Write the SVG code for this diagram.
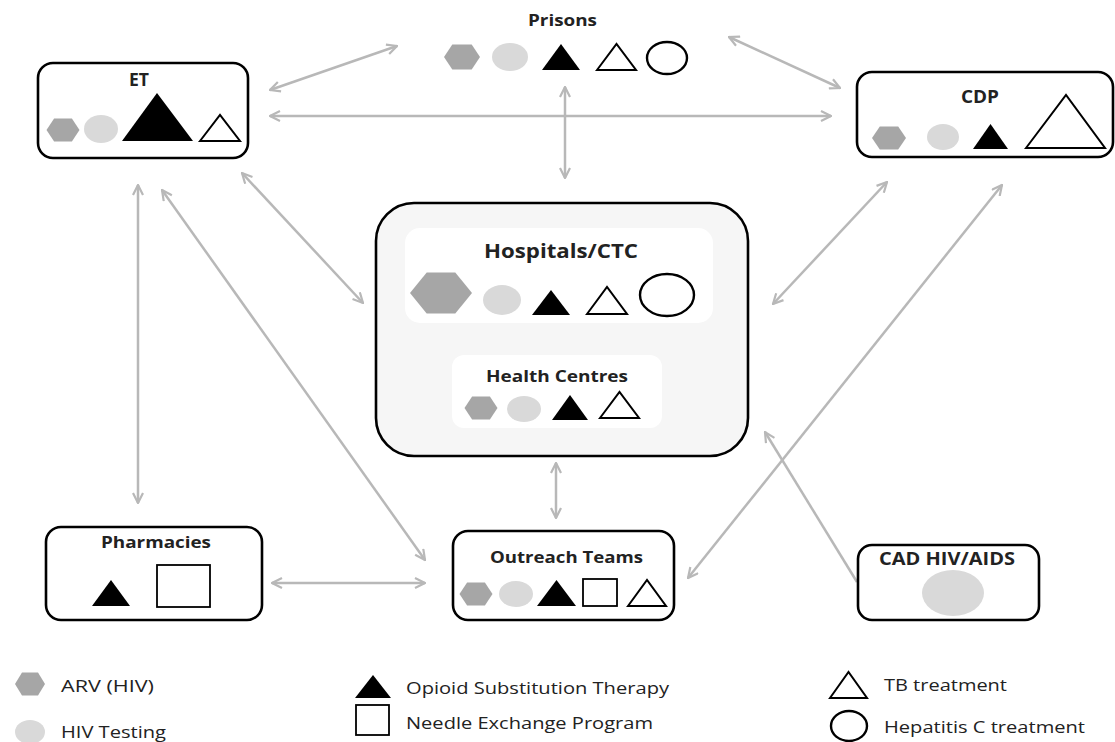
<svg xmlns="http://www.w3.org/2000/svg" width="1115" height="742" viewBox="0 0 1115 742">
<style>
.box{fill:#fff;stroke:#000;stroke-width:2.6}
.big{fill:#f6f6f6;stroke:#000;stroke-width:2.6}
.inner{fill:#fff;stroke:none}
.hex{fill:#a6a6a6}
.dot{fill:#d9d9d9}
.ost{fill:#000}
.tb{fill:#fff;stroke:#000;stroke-width:2}
.hcv{fill:#fff;stroke:#000;stroke-width:2.4}
.nep{fill:#fff;stroke:#000;stroke-width:1.8}
.t{font-family:"Open Sans","Liberation Sans",sans-serif;font-weight:bold;fill:#222}
.l{font-family:"Open Sans","Liberation Sans",sans-serif;font-size:17px;fill:#222}
.c{fill:none;stroke:#b8b8b8;stroke-width:2.5}
</style>
<defs>
<marker id="ah" viewBox="0 0 12 12" refX="11" refY="6" markerWidth="12" markerHeight="12" markerUnits="userSpaceOnUse" orient="auto-start-reverse">
<path d="M1,1 L11,6 L1,11" fill="none" stroke="#b8b8b8" stroke-width="2.2"/>
</marker>
</defs>
<rect width="1115" height="742" fill="#fff"/>

<g id="connectors">
<line class="c" x1="397" y1="46" x2="270" y2="90" marker-start="url(#ah)" marker-end="url(#ah)"/>
<line class="c" x1="270" y1="116" x2="831" y2="116" marker-start="url(#ah)" marker-end="url(#ah)"/>
<line class="c" x1="729" y1="37" x2="840" y2="88" marker-start="url(#ah)" marker-end="url(#ah)"/>
<line class="c" x1="565" y1="87" x2="565" y2="178" marker-start="url(#ah)" marker-end="url(#ah)"/>
<line class="c" x1="242" y1="173" x2="363" y2="303" marker-start="url(#ah)" marker-end="url(#ah)"/>
<line class="c" x1="138" y1="185" x2="138" y2="503" marker-start="url(#ah)" marker-end="url(#ah)"/>
<line class="c" x1="162" y1="190" x2="425" y2="560" marker-start="url(#ah)" marker-end="url(#ah)"/>
<line class="c" x1="887" y1="182" x2="773" y2="304" marker-start="url(#ah)" marker-end="url(#ah)"/>
<line class="c" x1="1002" y1="185" x2="688" y2="578" marker-start="url(#ah)" marker-end="url(#ah)"/>
<line class="c" x1="556" y1="463" x2="556" y2="518" marker-start="url(#ah)" marker-end="url(#ah)"/>
<line class="c" x1="272" y1="583" x2="425" y2="583" marker-start="url(#ah)" marker-end="url(#ah)"/>
<line class="c" x1="857" y1="582" x2="765" y2="432" marker-end="url(#ah)"/>
</g>

<g id="prisons">
<text class="t" x="528" y="26" font-size="16" textLength="69" lengthAdjust="spacingAndGlyphs">Prisons</text>
<polygon class="hex" points="444,57 452.3,44.5 471.7,44.5 480,57 471.7,69.5 452.3,69.5"/>
<ellipse class="dot" cx="510" cy="57" rx="18" ry="14"/>
<polygon class="ost" points="542,70 561,44 580,70"/>
<polygon class="tb" points="597,70 616.5,44 636,70"/>
<ellipse class="hcv" cx="667" cy="58" rx="20" ry="16"/>
</g>

<g id="et">
<rect class="box" x="38" y="63" width="210" height="95" rx="15"/>
<text class="t" x="129" y="86" font-size="17" textLength="20" lengthAdjust="spacingAndGlyphs">ET</text>
<polygon class="hex" points="46.5,130 54.1,118.5 71.9,118.5 79.5,130 71.9,141.5 54.1,141.5"/>
<ellipse class="dot" cx="101" cy="129" rx="17" ry="14"/>
<polygon class="ost" points="122,141 157,93 193,141"/>
<polygon class="tb" points="200,141 220,115 240,141"/>
</g>

<g id="cdp">
<rect class="box" x="857" y="72" width="256" height="85" rx="15"/>
<text class="t" x="961" y="103" font-size="17" textLength="38" lengthAdjust="spacingAndGlyphs">CDP</text>
<polygon class="hex" points="872,138 879.8,126.5 898.2,126.5 906,138 898.2,149.5 879.8,149.5"/>
<ellipse class="dot" cx="943" cy="137" rx="16" ry="13"/>
<polygon class="ost" points="973,149 990.5,124 1008,149"/>
<polygon class="tb" points="1026,148 1066,95 1105,148"/>
</g>

<g id="hospitals">
<rect class="big" x="376" y="203" width="372" height="253" rx="38"/>
<rect class="inner" x="405" y="228" width="308" height="95" rx="15"/>
<text class="t" x="484" y="258" font-size="20" textLength="154" lengthAdjust="spacingAndGlyphs">Hospitals/CTC</text>
<polygon class="hex" points="410,293 426.7,272.5 455.3,272.5 472,293 455.3,313.5 426.7,313.5"/>
<ellipse class="dot" cx="502" cy="300" rx="19" ry="15"/>
<polygon class="ost" points="532,315 551,290 570,315"/>
<polygon class="tb" points="587,314 607,287 627,314"/>
<ellipse class="hcv" cx="667" cy="295" rx="27" ry="21"/>
</g>

<g id="health-centres">
<rect class="inner" x="452" y="355" width="210" height="73" rx="12"/>
<text class="t" x="486" y="382" font-size="16" textLength="142" lengthAdjust="spacingAndGlyphs">Health Centres</text>
<polygon class="hex" points="464.5,408 472.1,396.5 489.9,396.5 497.5,408 489.9,419.5 472.1,419.5"/>
<ellipse class="dot" cx="524" cy="409" rx="17" ry="13"/>
<polygon class="ost" points="552,420 570,395 588,420"/>
<polygon class="tb" points="600,418 619.5,392 639,418"/>
</g>

<g id="pharmacies">
<rect class="box" x="46" y="527" width="216" height="93" rx="15"/>
<text class="t" x="101" y="548" font-size="16" textLength="110" lengthAdjust="spacingAndGlyphs">Pharmacies</text>
<polygon class="ost" points="92,606 111,580 130,606"/>
<rect class="nep" x="157" y="565" width="53" height="42"/>
</g>

<g id="outreach">
<rect class="box" x="453" y="531" width="221" height="89" rx="15"/>
<text class="t" x="490" y="563" font-size="16" textLength="153" lengthAdjust="spacingAndGlyphs">Outreach Teams</text>
<polygon class="hex" points="459.5,594 467.1,582.5 484.9,582.5 492.5,594 484.9,605.5 467.1,605.5"/>
<ellipse class="dot" cx="516" cy="594" rx="17" ry="13"/>
<polygon class="ost" points="537,606 556.5,580 576,606"/>
<rect class="nep" x="583" y="579" width="34" height="27"/>
<polygon class="tb" points="628,606 647,580 666,606"/>
</g>

<g id="cad">
<rect class="box" x="858" y="545" width="181" height="75" rx="14"/>
<text class="t" x="879" y="565" font-size="17" textLength="136" lengthAdjust="spacingAndGlyphs">CAD HIV/AIDS</text>
<ellipse class="dot" cx="953" cy="593" rx="31" ry="23"/>
</g>

<g id="legend">
<polygon class="hex" points="15,684 22,672.5 38,672.5 45,684 38,695.5 22,695.5"/>
<text class="l" x="61" y="692" textLength="93" lengthAdjust="spacingAndGlyphs">ARV (HIV)</text>
<ellipse class="dot" cx="30" cy="732" rx="15" ry="12"/>
<text class="l" x="61" y="738" textLength="105" lengthAdjust="spacingAndGlyphs">HIV Testing</text>
<polygon class="ost" points="355,698 373,675 391,698"/>
<text class="l" x="406" y="694" textLength="263" lengthAdjust="spacingAndGlyphs">Opioid Substitution Therapy</text>
<rect class="nep" x="356" y="705" width="33" height="30"/>
<text class="l" x="406" y="729" textLength="247" lengthAdjust="spacingAndGlyphs">Needle Exchange Program</text>
<polygon class="tb" points="830,698 848.5,672 867,698"/>
<text class="l" x="884" y="691" textLength="123" lengthAdjust="spacingAndGlyphs">TB treatment</text>
<ellipse class="hcv" cx="849" cy="726" rx="18" ry="15"/>
<text class="l" x="884" y="733" textLength="201" lengthAdjust="spacingAndGlyphs">Hepatitis C treatment</text>
</g>
</svg>
